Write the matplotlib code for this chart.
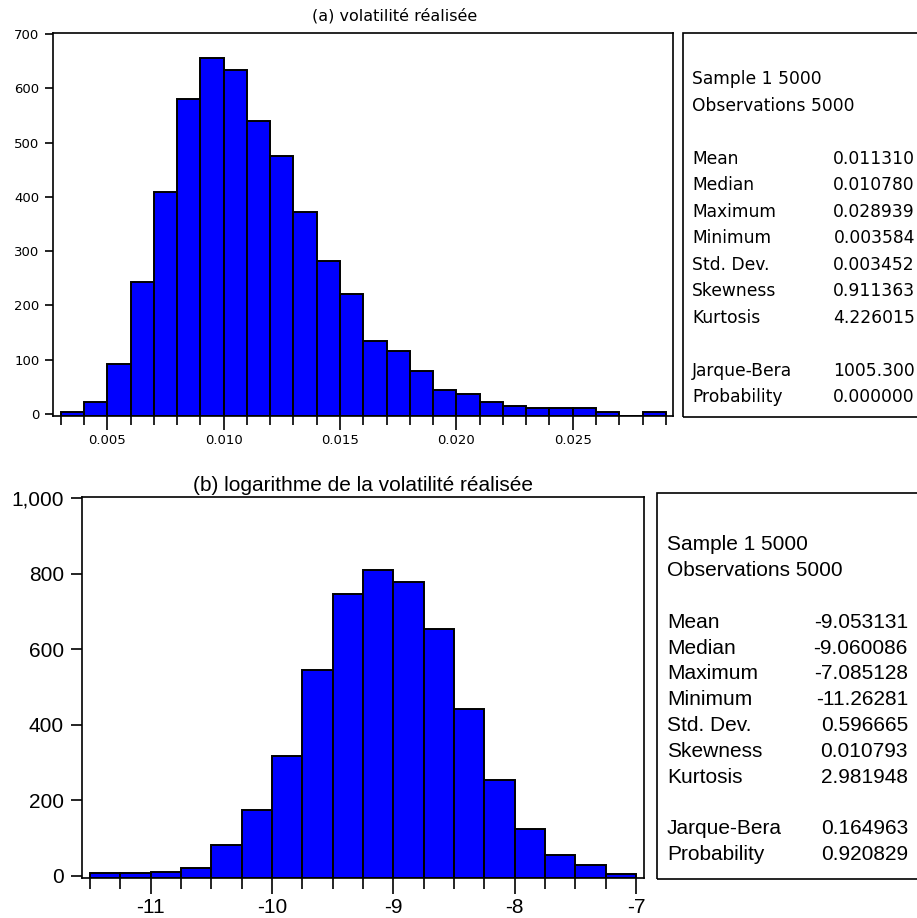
import numpy as np
import matplotlib
matplotlib.use("Agg")
import matplotlib.pyplot as plt
from matplotlib.patches import Rectangle
from matplotlib.ticker import MultipleLocator, FuncFormatter

# histogram (a): realised volatility, bins of 0.001 from 0.003 to 0.029
edges_a = np.arange(0.003, 0.0295, 0.001)
counts_a = [4, 22, 93, 244, 408, 581, 656, 634, 540, 476, 372, 281, 221,
            135, 116, 79, 45, 37, 22, 14, 11, 11, 11, 3, 0, 3]

# histogram (b): log of realised volatility, bins of 0.25 from -11.5 to -7
edges_b = np.arange(-11.5, -6.99, 0.25)
counts_b = [7, 7, 11, 22, 82, 174, 319, 546, 746, 811, 778, 654, 443,
            254, 125, 56, 29, 5]

title_a = "(a) volatilité réalisée"
title_b = "(b) logarithme de la volatilité réalisée"

stat_names = ["Mean", "Median", "Maximum", "Minimum", "Std. Dev.",
              "Skewness", "Kurtosis"]
stats_a = ["0.011310", "0.010780", "0.028939", "0.003584", "0.003452",
           "0.911363", "4.226015"]
stats_b = ["-9.053131", "-9.060086", "-7.085128", "-11.26281", "0.596665",
           "0.010793", "2.981948"]
jb_names = ["Jarque-Bera", "Probability"]
jb_a = ["1005.300", "0.000000"]
jb_b = ["0.164963", "0.920829"]

W, H = 917, 918
fig = plt.figure(figsize=(W / 100, H / 100), dpi=100)


def fx(x):
    return x / W


def fy(y):
    return 1 - y / H


def make_axes(x0, y0, x1, y1):
    return fig.add_axes([fx(x0), fy(y1), fx(x1) - fx(x0), fy(y0) - fy(y1)])


def style(ax, lw):
    for s in ax.spines.values():
        s.set_linewidth(lw)
        s.set_color("black")
    ax.tick_params(top=False, right=False, which="both", direction="out",
                   width=lw, color="black")


def hist_bars(ax, edges, counts, width, ymin):
    # bars start on the bottom spine, empty bins are left out
    counts = np.array(counts, dtype=float)
    heights = np.where(counts > 0, counts - ymin, 0)
    ax.bar(edges[:-1], heights, bottom=ymin, width=width, align="edge",
           color="#0000ff", edgecolor="black", linewidth=1.4)


# ---------- panel (a) ----------
ax1 = make_axes(53, 33, 673, 416)
ymin_a = -3.7
hist_bars(ax1, edges_a, counts_a, 0.001, ymin_a)
ax1.set_xlim(0.002667, 0.02931)
ax1.set_ylim(ymin_a, 701.8)
ax1.xaxis.set_major_locator(MultipleLocator(0.005))
ax1.xaxis.set_minor_locator(MultipleLocator(0.001))
ax1.xaxis.set_major_formatter(FuncFormatter(lambda v, p: f"{v:.3f}"))
ax1.yaxis.set_major_locator(MultipleLocator(100))
style(ax1, 1.2)
ax1.tick_params(axis="x", which="major", length=10, pad=3, labelsize=9.5)
ax1.tick_params(axis="x", which="minor", length=6.5)
ax1.tick_params(axis="y", length=5.8, pad=4, labelsize=9.5)
ax1.text(fx(395 - 53) / fx(620), 1.045, title_a, transform=ax1.transAxes,
         ha="center", va="center", fontsize=11.5)

# ---------- panel (b) ----------
ax2 = make_axes(81.7, 496.7, 644.3, 878.3)
ymin_b = -6.1
hist_bars(ax2, edges_b, counts_b, 0.25, ymin_b)
ax2.set_xlim(-11.568, -6.932)
ax2.set_ylim(ymin_b, 1004.2)
ax2.xaxis.set_major_locator(MultipleLocator(1))
ax2.xaxis.set_minor_locator(MultipleLocator(0.25))
ax2.xaxis.set_major_formatter(FuncFormatter(lambda v, p: f"{v:.0f}"))
ax2.yaxis.set_major_locator(MultipleLocator(200))
ax2.yaxis.set_major_formatter(FuncFormatter(lambda v, p: f"{v:,.0f}"))
style(ax2, 1.2)
ax2.tick_params(axis="x", which="major", length=11.5, pad=3, labelsize=15)
ax2.tick_params(axis="x", which="minor", length=7.7)
ax2.tick_params(axis="y", length=7.7, pad=5, labelsize=15)
for lab in ax2.get_xticklabels() + ax2.get_yticklabels():
    lab.set_family("Liberation Sans")
ax2.set_title(title_b, fontsize=15, family="Liberation Sans", pad=4)

# ---------- statistics boxes ----------
fig.patches.append(Rectangle((fx(683), fy(416.7)), fx(260), fy(33.3) - fy(416.7),
                             transform=fig.transFigure, fill=False,
                             edgecolor="black", linewidth=1.2))
fig.patches.append(Rectangle((fx(656.7), fy(879)), fx(280), fy(493.3) - fy(879),
                             transform=fig.transFigure, fill=False,
                             edgecolor="black", linewidth=1.2))


def stats_box(x_lab, x_val, y_top, step, values, jb, size, family):
    kw = dict(fontsize=size, family=family, va="center")
    fig.text(fx(x_lab), fy(y_top), "Sample 1 5000", **kw)
    fig.text(fx(x_lab), fy(y_top + step), "Observations 5000", **kw)
    y = y_top + 3 * step
    for name, val in zip(stat_names, values):
        fig.text(fx(x_lab), fy(y), name, **kw)
        fig.text(fx(x_val), fy(y), val, ha="right", **kw)
        y += step
    y += step
    for name, val in zip(jb_names, jb):
        fig.text(fx(x_lab), fy(y), name, **kw)
        fig.text(fx(x_val), fy(y), val, ha="right", **kw)
        y += step


stats_box(692, 915, 79.3, 26.5, stats_a, jb_a, 12.3, "DejaVu Sans")
stats_box(667, 908, 545, 25.8, stats_b, jb_b, 15, "Liberation Sans")

fig.savefig("out.png", dpi=100)
